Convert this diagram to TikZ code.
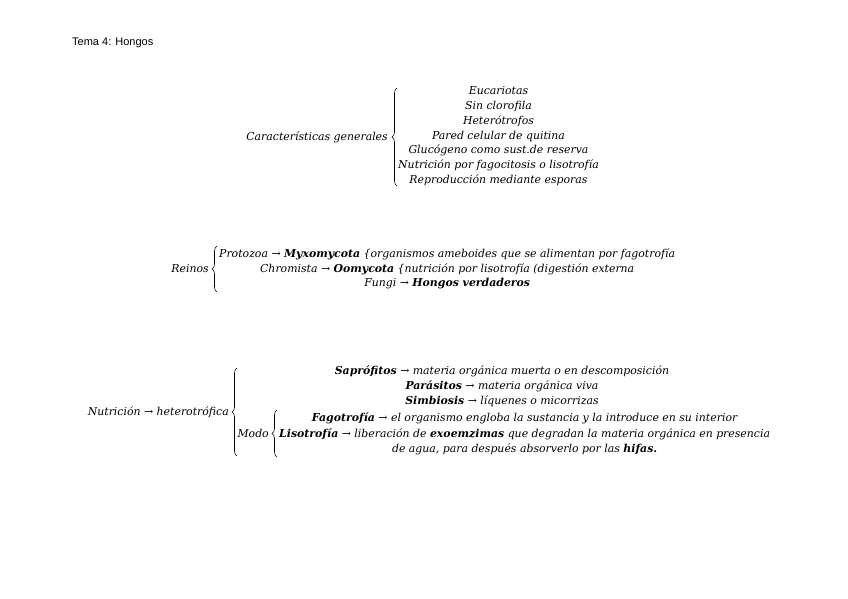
\documentclass[tikz,border=0pt]{standalone}
\usepackage{fontspec}
\setmainfont{DejaVu Serif}
\newfontfamily\titlefont{Liberation Sans}
\usetikzlibrary{decorations.pathreplacing}
\tikzset{
  txt/.style={inner sep=0pt, font=\fontsize{10.9}{12}\selectfont\itshape},
  brc/.style={decorate, decoration={brace, amplitude=5pt}, line width=0.6pt},
}
\begin{document}
\begin{tikzpicture}[x=1pt,y=-1pt]
\useasboundingbox[fill=white] (0,0) rectangle (848,599);
\node[inner sep=0pt, anchor=west, font=\titlefont\fontsize{11}{12}\selectfont] (title) at (72,43) {Tema 4: Hongos};

% Block 1
\node[txt, anchor=west] (c6) at (398,165) {Nutrición por fagocitosis o lisotrofía};
\node[txt] (c1) at (c6.center |- 0,91) {Eucariotas};
\node[txt] (c2) at (c6.center |- 0,106) {Sin clorofila};
\node[txt] (c3) at (c6.center |- 0,121) {Heterótrofos};
\node[txt] (c4) at (c6.center |- 0,136) {Pared celular de quitina};
\node[txt] (c5) at (c6.center |- 0,150) {Glucógeno como sust.de reserva};
\node[txt] (c7) at (c6.center |- 0,180) {Reproducción mediante esporas};
\coordinate (b1t) at (397,88);
\coordinate (b1b) at (397,186);
\draw[brc] (b1b) -- (b1t);
\node[txt, anchor=east] (carac) at (388,137) {Características generales};

% Block 2
\node[txt, anchor=west] (r1) at (219,254) {Protozoa → \textbf{Myxomycota} \{organismos ameboides que se alimentan por fagotrofía};
\node[txt] (r2) at (r1.center |- 0,269) {Chromista → \textbf{Oomycota} \{nutrición por lisotrofía (digestión externa};
\node[txt] (r3) at (r1.center |- 0,284) {Fungi → \textbf{Hongos verdaderos}};
\coordinate (b2t) at (217,246);
\coordinate (b2b) at (217,292);
\draw[brc] (b2b) -- (b2t);
\node[txt, anchor=east] (reinos) at (209,269) {Reinos};

% Block 3
\node[txt, anchor=west] (m2) at (279,434) {\textbf{Lisotrofía} → liberación de \textbf{exoemzimas} que degradan la materia orgánica en presencia};
\node[txt] (m1) at (m2.center |- 0,418) {\textbf{Fagotrofía} → el organismo engloba la sustancia y la introduce en su interior};
\node[txt] (m3) at (m2.center |- 0,449) {de agua, para después absorverlo por las \textbf{hifas.}};
\coordinate (b4t) at (277,410);
\coordinate (b4b) at (277,457);
\draw[brc] (b4b) -- (b4t);
\node[txt, anchor=east] (modo) at (269,433) {Modo};
\node[txt] (n1) at (502,371) {\textbf{Saprófitos} → materia orgánica muerta o en descomposición};
\node[txt] (n2) at (502,386) {\textbf{Parásitos} → materia orgánica viva};
\node[txt] (n3) at (502,401) {\textbf{Simbiosis} → líquenes o micorrizas};
\coordinate (b3t) at (237,368);
\coordinate (b3b) at (237,456);
\draw[brc] (b3b) -- (b3t);
\node[txt, anchor=east] (nutr) at (229,412) {Nutrición → heterotrófica};
\end{tikzpicture}
\end{document}
